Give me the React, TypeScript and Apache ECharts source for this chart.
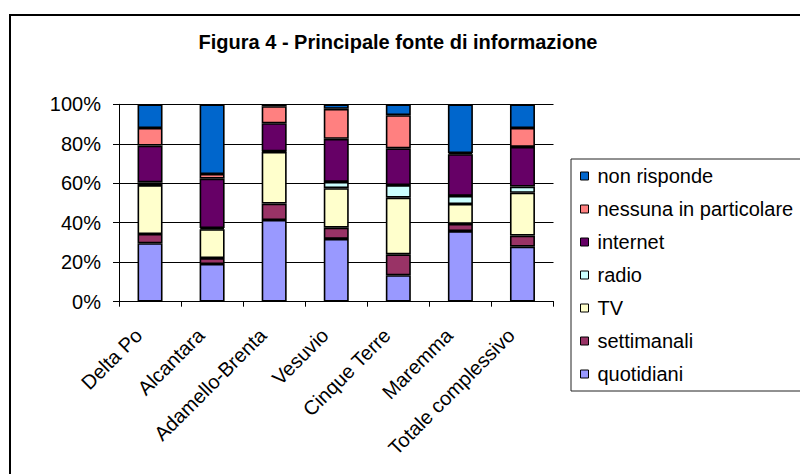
import React, { useEffect, useRef } from "react";
import * as echarts from "echarts";

const categories = [
  "Delta Po",
  "Alcantara",
  "Adamello-Brenta",
  "Vesuvio",
  "Cinque Terre",
  "Maremma",
  "Totale complessivo",
];

const quotidiani = [29.6, 19.1, 41.4, 31.8, 13.4, 35.8, 27.9];
const settimanali = [4.7, 3.0, 8.3, 5.7, 10.6, 3.6, 5.6];
const tv = [24.8, 14.6, 26.2, 20.0, 28.7, 10.1, 21.7];
const radio = [1.4, 0.6, 0.3, 3.2, 6.4, 4.1, 3.1];
const internet = [18.6, 25.0, 14.2, 21.8, 18.6, 21.1, 20.1];
const nessuna = [8.9, 2.4, 8.6, 15.2, 16.8, 0.6, 9.6];
const nonRisponde = [12.0, 35.3, 1.0, 2.3, 5.5, 24.7, 12.0];

const seriesNames = [
  "quotidiani",
  "settimanali",
  "TV",
  "radio",
  "internet",
  "nessuna in particolare",
  "non risponde",
];
const seriesValues = [quotidiani, settimanali, tv, radio, internet, nessuna, nonRisponde];
const seriesColors = ["#9999FF", "#993366", "#FFFFCC", "#CCFFFF", "#660066", "#FF8080", "#0066CC"];

const yTicks = { min: 0, max: 100, interval: 20 };
const titleText = "Figura 4 - Principale fonte di informazione";
const FONT = "'Liberation Sans', Arial, sans-serif";

export default function App() {
  const ref = useRef<HTMLDivElement>(null);
  useEffect(() => {
    if (!ref.current) return;
    const chart = echarts.init(ref.current, null, { renderer: "svg" });
    chart.setOption({
      animation: false,
      backgroundColor: "#ffffff",
      textStyle: { fontFamily: FONT },
      title: {
        text: titleText,
        left: 398,
        textAlign: "center",
        top: 32,
        padding: 0,
        textStyle: { fontFamily: FONT, fontSize: 20, fontWeight: "bold", color: "#000" },
      },
      graphic: [
        {
          type: "rect",
          shape: { x: 10, y: 15, width: 1000, height: 1000 },
          style: { fill: "none", stroke: "#000", lineWidth: 2 },
          silent: true,
        },
      ],
      legend: {
        orient: "vertical",
        left: 571,
        top: 159,
        padding: [7, 12, 7, 9],
        itemGap: 13,
        itemWidth: 8,
        itemHeight: 8,
        icon: "rect",
        borderColor: "#222",
        borderWidth: 1,
        data: seriesNames.slice().reverse(),
        itemStyle: { borderColor: "#000", borderWidth: 1 },
        textStyle: { fontFamily: FONT, fontSize: 20, color: "#000", padding: [0, 0, 0, 4] },
      },
      grid: { left: 119, right: 246.5, top: 104.3, bottom: 172.3, containLabel: false },
      xAxis: {
        type: "category",
        data: categories,
        axisLine: { lineStyle: { color: "#000", width: 1 } },
        axisTick: { show: true, length: 5, lineStyle: { color: "#000" } },
        axisLabel: {
          rotate: 45,
          interval: 0,
          margin: 33,
          verticalAlign: "bottom",
          padding: [0, 6, 0, 0],
          fontFamily: FONT,
          fontSize: 20,
          color: "#000",
        },
      },
      yAxis: {
        type: "value",
        min: yTicks.min,
        max: yTicks.max,
        interval: yTicks.interval,
        axisLine: { show: true, lineStyle: { color: "#000", width: 1 } },
        axisTick: { show: true, length: 6, lineStyle: { color: "#000" } },
        splitLine: { show: true, lineStyle: { color: "#000", width: 1 } },
        axisLabel: {
          formatter: "{value}%",
          margin: 18,
          fontFamily: FONT,
          fontSize: 20,
          color: "#000",
        },
      },
      series: seriesNames.map((name, i) => ({
        name,
        type: "bar",
        stack: "total",
        barWidth: 25,
        data: seriesValues[i],
        itemStyle: { color: seriesColors[i], borderColor: "#000", borderWidth: 1.6 },
      })),
    });
    return () => chart.dispose();
  }, []);
  return (
    <div
      ref={ref}
      style={{ position: "absolute", left: 0, top: 0, width: 800, height: 474 }}
    />
  );
}
